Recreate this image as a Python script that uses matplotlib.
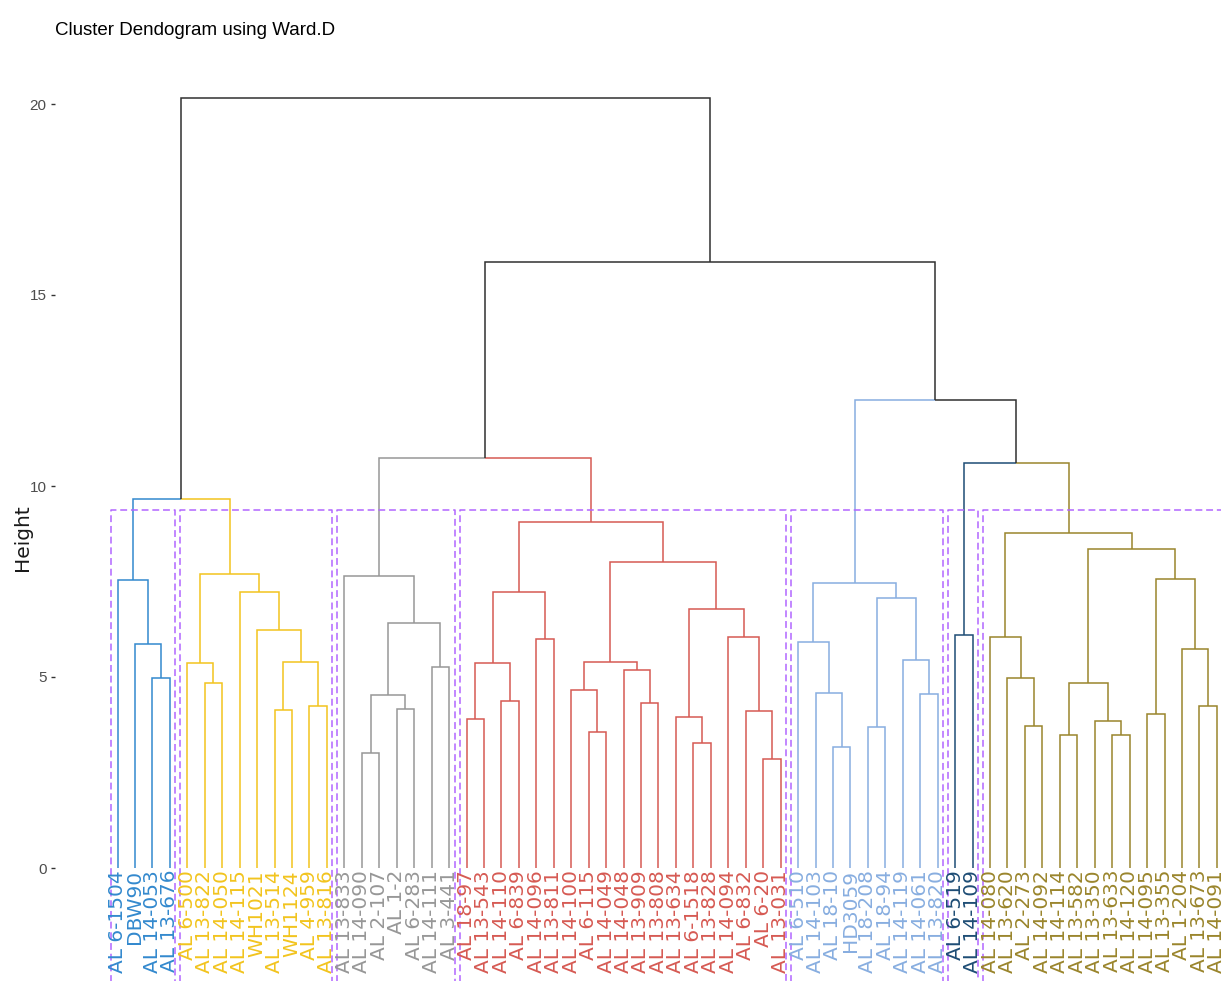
import matplotlib
matplotlib.use("Agg")
import matplotlib.pyplot as plt
import numpy as np

title = "Cluster Dendogram using Ward.D"
y_label = "Height"

labels = [
    "AL 6-1504", "DBW90", "AL 14-053", "AL 13-676",
    "AL 6-500", "AL 13-822", "AL 14-050", "AL 14-115", "WH1021", "AL 13-514",
    "WH1124", "AL 4-959", "AL 13-816",
    "AL 13-833", "AL 14-090", "AL 2-107", "AL 1-2", "AL 6-283", "AL 14-111", "AL 3-441",
    "AL 18-97", "AL 13-543", "AL 14-110", "AL 6-839", "AL 14-096", "AL 13-811",
    "AL 14-100", "AL 6-115", "AL 14-049", "AL 14-048", "AL 13-909", "AL 13-808",
    "AL 13-634", "AL 6-1518", "AL 13-828", "AL 14-094", "AL 6-832", "AL 6-20", "AL 13-031",
    "AL 6-510", "AL 14-103", "AL 18-10", "HD3059", "AL 18-208", "AL 18-94",
    "AL 14-119", "AL 14-061", "AL 13-820",
    "AL 6-519", "AL 14-109",
    "AL 14-080", "AL 13-620", "AL 2-273", "AL 14-092", "AL 14-114", "AL 13-582",
    "AL 13-350", "AL 13-633", "AL 14-120", "AL 14-095", "AL 13-355", "AL 1-204",
    "AL 13-673", "AL 14-091",
]

cluster_sizes = [4, 9, 7, 19, 9, 2, 14]
cluster_colors = ["#3389CE", "#F2C41E", "#979797", "#D65A53", "#88AEE0", "#1E4D75", "#9A852C"]
link_color = "#303030"
rect_color = "#B266FF"

# merges, R hclust convention: negative = leaf (1-based), positive = earlier merge (1-based)
merge_a = [-3, -2, -1,
           -6, -5, -10, -12, 6, -9, -8, 5, 3,
           -15, -17, 13, -19, 15, -14,
           -21, -23, 19, -25, 21, -28, -27, -31, -30, 25, -34, -33, -38, -37, -36, 30, 28, 23, 18,
           -42, -41, -40, -44, -47, -46, 41, 40,
           -49,
           -53, -52, -51, -55, -58, -57, 50, -60, -63, -62, 54, 53, 49, 46, 45, 37, 12]
merge_b = [-4, 1, 2,
           -7, 4, -11, -13, 7, 8, 9, 10, 11,
           -16, -18, 14, -20, 16, 17,
           -22, -24, 20, -26, 22, -29, 24, -32, 26, 27, -35, 29, -39, 31, 32, 33, 34, 35, 36,
           -43, 38, 39, -45, -48, 42, 43, 44,
           -50,
           -54, 47, 48, -56, -59, 51, 52, -61, -64, 55, 56, 57, 58, 59, 60, 61, 62]
merge_h = [4.97, 5.86, 7.54,
           4.83, 5.36, 4.13, 4.24, 5.39, 6.24, 7.22, 7.70, 9.65,
           3.02, 4.15, 4.54, 5.25, 6.42, 7.65,
           3.90, 4.37, 5.36, 6.00, 7.23, 3.57, 4.67, 4.33, 5.18, 5.38, 3.26, 3.94, 2.85, 4.12,
           6.04, 6.77, 8.00, 9.05, 10.72,
           3.18, 4.59, 5.91, 3.70, 4.55, 5.44, 7.06, 7.45,
           6.11,
           3.73, 4.97, 6.04, 3.48, 3.48, 3.86, 4.83, 4.02, 4.25, 5.72, 7.57, 8.34, 8.76,
           10.59, 12.25, 15.86, 20.15]

cut_height = 9.37
y_ticks = [0, 5, 10, 15, 20]

# ---------------------------------------------------------------
leaf_cluster = np.repeat(np.arange(len(cluster_sizes)), cluster_sizes)

nodes = []  # (x, h, set of clusters)


def info(c):
    if c < 0:
        i = -c - 1
        return float(i), 0.0, {int(leaf_cluster[i])}
    return nodes[c - 1]


for a, b, h in zip(merge_a, merge_b, merge_h):
    xa, _, ca = info(a)
    xb, _, cb = info(b)
    nodes.append(((xa + xb) / 2.0, h, ca | cb))

W, H = 1221, 981
fig = plt.figure(figsize=(W / 100, H / 100), dpi=100)

px_left, px_right, px_top, px_bot = 55, 1221, 60, 981
ax = fig.add_axes([px_left / W, 1 - px_bot / H, (px_right - px_left) / W, (px_bot - px_top) / H])

x0_px, dx_px = 117.5, 17.45
y0_px, dy_px = 868.0, 38.2
ax.set_xlim((px_left - x0_px) / dx_px, (px_right - x0_px) / dx_px)
ax.set_ylim((y0_px - px_bot) / dy_px, (y0_px - px_top) / dy_px)

for (a, b, h), (xk, hk, ck) in zip(zip(merge_a, merge_b, merge_h), nodes):
    for c in (a, b):
        xc, hc, cc = info(c)
        col = cluster_colors[next(iter(cc))] if len(cc) == 1 else link_color
        ax.plot([xk, xc, xc], [hk, hk, hc], color=col, lw=1.1,
                solid_joinstyle="miter", solid_capstyle="butt")

# cluster rectangles
start = 0
for k, n in enumerate(cluster_sizes):
    xl = start - 0.4
    xr = start + n - 1 + 0.32
    ax.plot([xl, xl, xr, xr], [-10, cut_height, cut_height, -10], color=rect_color,
            lw=1.1, linestyle=(0, (4.5, 2.5)))
    start += n

# leaf labels
for i, lab in enumerate(labels):
    ax.text(i, -0.05, lab, rotation=90, ha="center", va="top", fontsize=14.5,
            family="DejaVu Sans", color=cluster_colors[leaf_cluster[i]], clip_on=False)

ax.set_yticks(y_ticks)
ax.set_yticklabels([str(t) for t in y_ticks], fontsize=11,
                   family="Liberation Sans", color="#4D4D4D")
ax.tick_params(axis="y", length=3, width=1, color="#333333", pad=3)
ax.set_xticks([])
for s in ax.spines.values():
    s.set_visible(False)
ax.patch.set_alpha(0)

fig.text(22 / W, 1 - 538 / H, y_label, rotation=90, ha="center", va="center",
         fontsize=14.5, family="DejaVu Sans", color="#1A1A1A")
fig.text(55 / W, 1 - 35 / H, title, ha="left", va="baseline", fontsize=13.5,
         family="Liberation Sans", color="#000000")

fig.savefig("out.png", dpi=100)
